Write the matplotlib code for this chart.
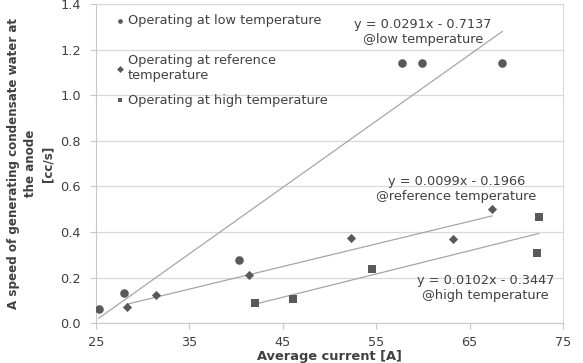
import matplotlib
matplotlib.use("Agg")
import matplotlib.pyplot as plt
from matplotlib.legend import Legend
import numpy as np

# Data
low_x = [25.3, 28.0, 40.3, 57.8, 59.9, 68.5]
low_y = [0.063, 0.134, 0.276, 1.140, 1.140, 1.140]
ref_x = [28.3, 31.4, 41.4, 52.3, 63.2, 67.4]
ref_y = [0.071, 0.124, 0.213, 0.373, 0.368, 0.501]
high_x = [42.0, 46.1, 54.5, 72.4, 72.2]
high_y = [0.088, 0.108, 0.237, 0.468, 0.310]

low_fit = (0.0291, -0.7137)
ref_fit = (0.0099, -0.1966)
high_fit = (0.0102, -0.3447)

labels = ["Operating at low temperature",
          "Operating at reference\ntemperature",
          "Operating at high temperature"]
fit_labels = ["y = 0.0291x - 0.7137\n@low temperature",
              "y = 0.0099x - 0.1966\n@reference temperature",
              "y = 0.0102x - 0.3447\n@high temperature"]

xticks = [25, 35, 45, 55, 65, 75]
yticks = [0.0, 0.2, 0.4, 0.6, 0.8, 1.0, 1.2, 1.4]

txt = "#404040"
mk = "#595959"
lc = "#a6a6a6"
fs = 9.3

fig = plt.figure(figsize=(5.83, 3.63), dpi=100)
ax = fig.add_axes([0.1647, 0.1094, 0.801, 0.8796])

ax.set_xlim(25, 75)
ax.set_ylim(0, 1.4)
ax.set_xticks(xticks)
ax.set_yticks(yticks)
ax.set_yticklabels([f"{v:.1f}" for v in yticks])
ax.yaxis.grid(True, color="#d9d9d9", linewidth=0.9)
ax.set_axisbelow(True)

for s in ["top", "right"]:
    ax.spines[s].set_color("#d9d9d9")
for s in ["left", "bottom"]:
    ax.spines[s].set_color("#c8c8c8")
ax.tick_params(axis="both", colors="#c8c8c8", labelcolor=txt, labelsize=fs, length=4)
ax.tick_params(axis="x", pad=5)
ax.tick_params(axis="y", pad=7)

h1 = ax.scatter(low_x, low_y, marker="o", s=38, color=mk, zorder=3, linewidths=0)
h2 = ax.scatter(ref_x, ref_y, marker="D", s=22, color=mk, zorder=3, linewidths=0)
h3 = ax.scatter(high_x, high_y, marker="s", s=38, color=mk, zorder=3, linewidths=0)

for xs, (m, b) in [(low_x, low_fit), (ref_x, ref_fit), (high_x, high_fit)]:
    xx = np.array([min(xs), max(xs)])
    ax.plot(xx, m * xx + b, color=lc, linewidth=0.9, zorder=2)

row_y = [0.947, 0.800, 0.699]
scales = [0.55, 0.75, 0.55]
for h, lab, yy, sc in zip([h1, h2, h3], labels, row_y, scales):
    leg = Legend(ax, [h], [lab], loc="center left", bbox_to_anchor=(0.044, yy),
                 frameon=False, fontsize=fs, markerscale=sc, handletextpad=0.25,
                 handlelength=0.6, borderaxespad=0, borderpad=0)
    for t in leg.get_texts():
        t.set_color(txt)
    ax.add_artist(leg)

ax.text(60.0, 1.216, fit_labels[0], ha="center", va="bottom", fontsize=fs, color=txt, linespacing=1.2)
ax.text(63.6, 0.528, fit_labels[1], ha="center", va="bottom", fontsize=fs, color=txt, linespacing=1.2)
ax.text(66.7, 0.095, fit_labels[2], ha="center", va="bottom", fontsize=fs, color=txt, linespacing=1.2)

ax.set_xlabel("Average current [A]", fontsize=9.4, fontweight="bold", color=txt, labelpad=1)
ax.set_ylabel("A speed of generating condensate water at\nthe anode\n[cc/s]", fontsize=8.6,
              fontweight="bold", color=txt, linespacing=1.45, labelpad=4)

fig.savefig("out.png", dpi=100)
